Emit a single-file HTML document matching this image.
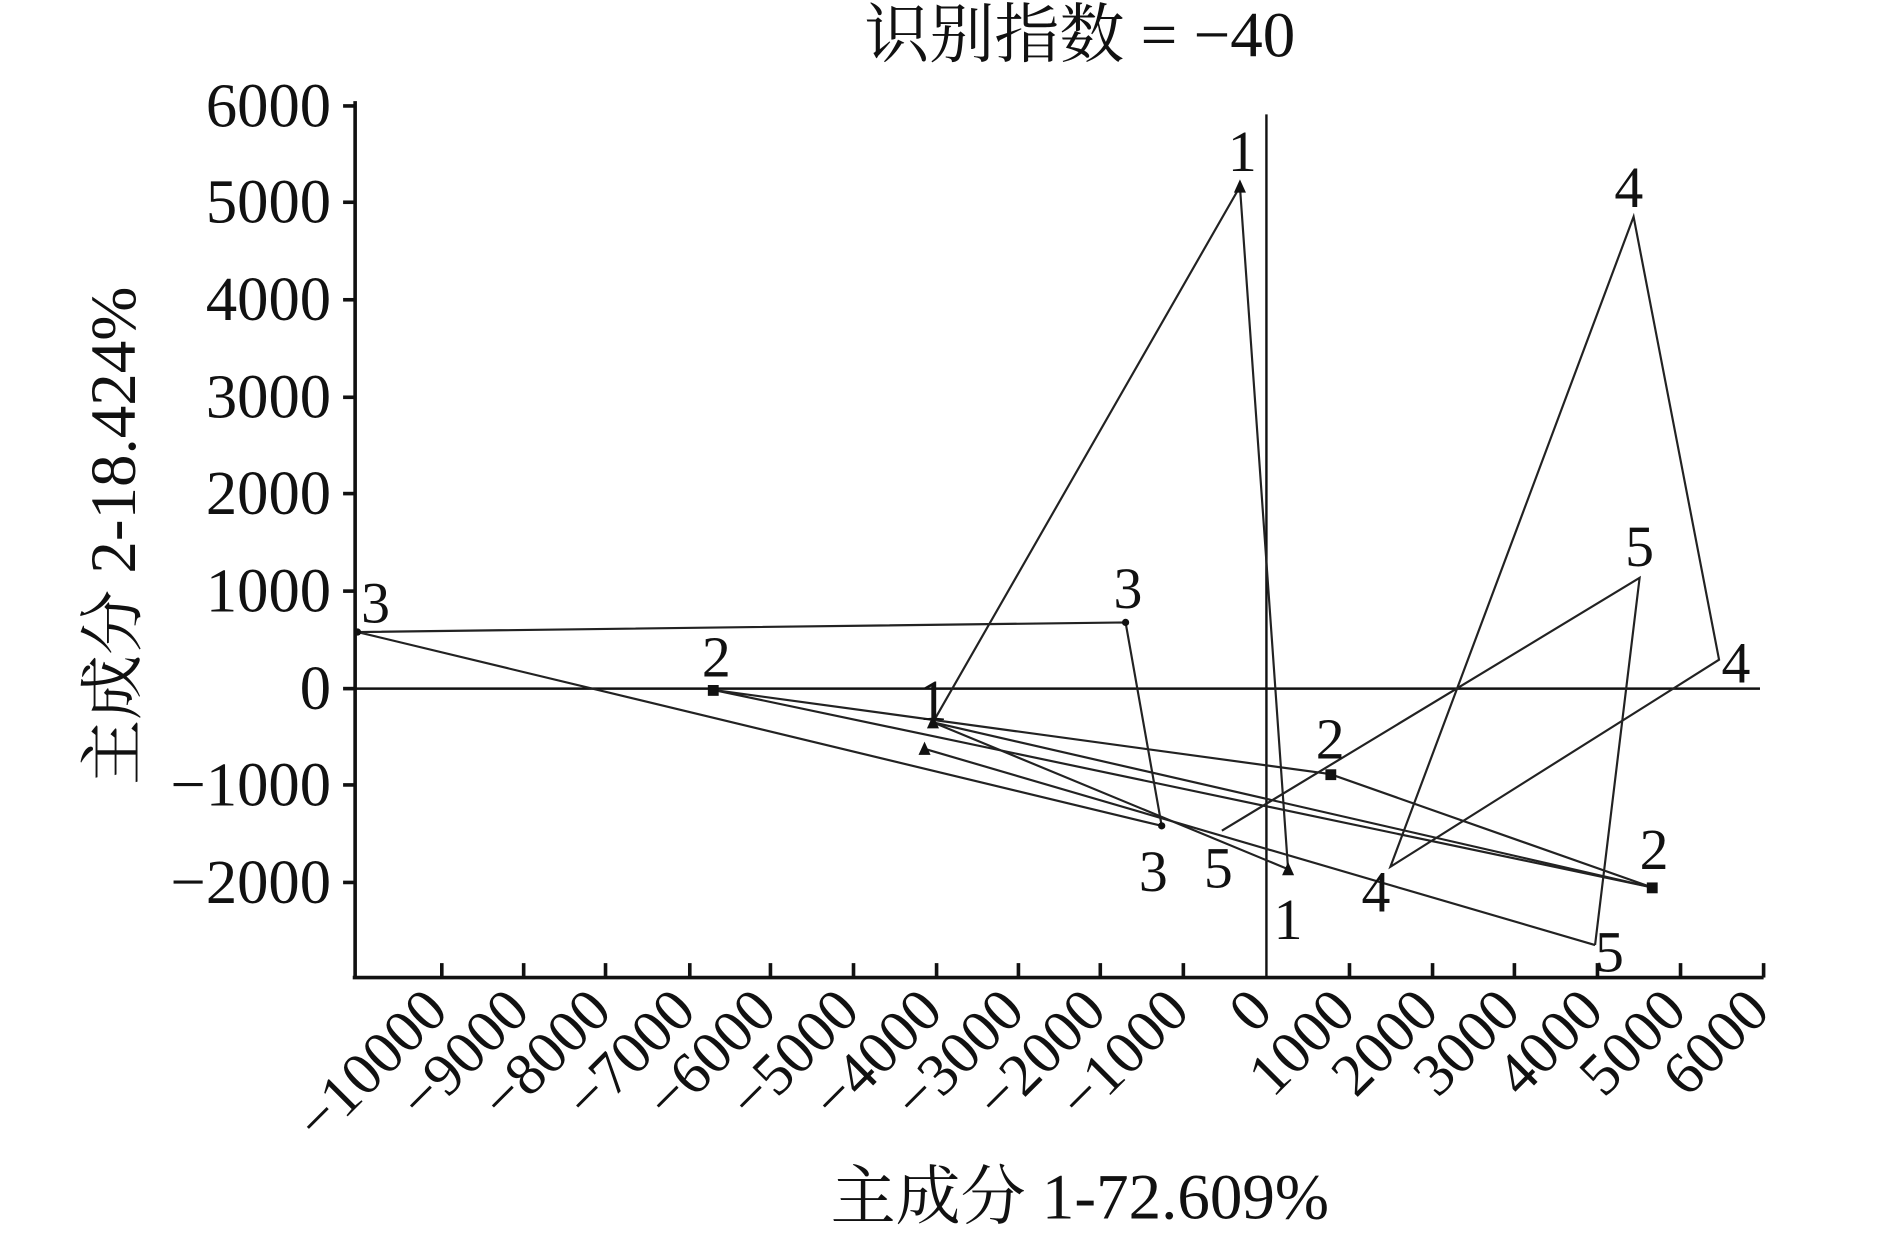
<!DOCTYPE html>
<html><head><meta charset="utf-8"><style>
html,body{margin:0;padding:0;background:#fff;}
svg{display:block}
text{font-family:"Liberation Serif","Noto Serif CJK SC",serif;fill:#111}
</style></head><body>
<svg width="1890" height="1240" viewBox="0 0 1570 1030" preserveAspectRatio="none">
<text x="897" y="47" font-size="54" text-anchor="middle">识别指数 = −40</text>
<g stroke="#111" stroke-width="3" fill="none">
<line x1="295" y1="84" x2="295" y2="813"/>
<line x1="293" y1="812" x2="1465" y2="812"/>
</g>
<g stroke="#111" stroke-width="2">
<line x1="295" y1="572" x2="1462" y2="572"/>
<line x1="1052" y1="95" x2="1052" y2="812"/>
</g>
<g stroke="#111" stroke-width="3">
<line x1="285" y1="88" x2="295" y2="88"/><line x1="285" y1="168" x2="295" y2="168"/>
<line x1="285" y1="249" x2="295" y2="249"/><line x1="285" y1="330" x2="295" y2="330"/>
<line x1="285" y1="410" x2="295" y2="410"/><line x1="285" y1="491" x2="295" y2="491"/>
<line x1="285" y1="572" x2="295" y2="572"/><line x1="285" y1="652" x2="295" y2="652"/>
<line x1="285" y1="733" x2="295" y2="733"/>
<line x1="367" y1="800" x2="367" y2="812"/><line x1="435" y1="800" x2="435" y2="812"/>
<line x1="503" y1="800" x2="503" y2="812"/><line x1="573" y1="800" x2="573" y2="812"/>
<line x1="640" y1="800" x2="640" y2="812"/><line x1="709" y1="800" x2="709" y2="812"/>
<line x1="778" y1="800" x2="778" y2="812"/><line x1="846" y1="800" x2="846" y2="812"/>
<line x1="914" y1="800" x2="914" y2="812"/><line x1="983" y1="800" x2="983" y2="812"/>
<line x1="1121" y1="800" x2="1121" y2="812"/><line x1="1190" y1="800" x2="1190" y2="812"/>
<line x1="1258" y1="800" x2="1258" y2="812"/><line x1="1327" y1="800" x2="1327" y2="812"/>
<line x1="1396" y1="800" x2="1396" y2="812"/><line x1="1465" y1="800" x2="1465" y2="812"/>
</g>
<g font-size="52" text-anchor="end">
<text x="275" y="105">6000</text><text x="275" y="185">5000</text>
<text x="275" y="266">4000</text><text x="275" y="347">3000</text>
<text x="275" y="427">2000</text><text x="275" y="508">1000</text>
<text x="275" y="589">0</text><text x="275" y="669">−1000</text>
<text x="275" y="750">−2000</text>
</g>
<g font-size="50" text-anchor="end">
<text transform="translate(374,842) rotate(-45)">−10000</text>
<text transform="translate(442,842) rotate(-45)">−9000</text>
<text transform="translate(510,842) rotate(-45)">−8000</text>
<text transform="translate(580,842) rotate(-45)">−7000</text>
<text transform="translate(647,842) rotate(-45)">−6000</text>
<text transform="translate(716,842) rotate(-45)">−5000</text>
<text transform="translate(785,842) rotate(-45)">−4000</text>
<text transform="translate(853,842) rotate(-45)">−3000</text>
<text transform="translate(921,842) rotate(-45)">−2000</text>
<text transform="translate(990,842) rotate(-45)">−1000</text>
<text transform="translate(1059,842) rotate(-45)">0</text>
<text transform="translate(1128,842) rotate(-45)">1000</text>
<text transform="translate(1197,842) rotate(-45)">2000</text>
<text transform="translate(1265,842) rotate(-45)">3000</text>
<text transform="translate(1334,842) rotate(-45)">4000</text>
<text transform="translate(1403,842) rotate(-45)">5000</text>
<text transform="translate(1472,842) rotate(-45)">6000</text>
</g>
<text x="897" y="1012" font-size="54" text-anchor="middle">主成分 1-72.609%</text>
<text transform="translate(112,445) rotate(-90)" font-size="54" text-anchor="middle">主成分 2-18.424%</text>
<g stroke="#222" stroke-width="1.8" fill="none">
<polygon points="297,525 935,517 965,686"/>
<polyline points="592,573 1105,643 1372,737 592,573"/>
<polygon points="775,600 1030,155 1070,722"/>
<line x1="768" y1="622" x2="1325" y2="785"/>
<line x1="775" y1="600" x2="1372" y2="737"/>
<polygon points="1155,720 1357,180 1428,548"/>
<polyline points="1015,690 1362,480 1325,785"/>
</g>
<g fill="#111">
<rect x="588" y="569" width="9" height="9"/><rect x="1101" y="639" width="9" height="9"/><rect x="1368" y="733" width="9" height="9"/>
<polygon points="1030,149 1025,160 1035,160"/><polygon points="1070,716 1065,727 1075,727"/>
<polygon points="768,616 763,627 773,627"/><polygon points="775,594 770,605 780,605"/>
<circle cx="297" cy="525" r="3"/><circle cx="935" cy="517" r="3"/><circle cx="965" cy="686" r="3"/>
</g>
<g font-size="48">
<text x="300" y="517">3</text><text x="925" y="505">3</text><text x="946" y="740">3</text>
<text x="583" y="562">2</text><text x="1093" y="630">2</text><text x="1362" y="722">2</text>
<text x="763" y="598">1</text><text x="1020" y="142">1</text><text x="1058" y="780">1</text>
<text x="1341" y="172">4</text><text x="1430" y="567">4</text><text x="1131" y="757">4</text>
<text x="1350" y="470">5</text><text x="1000" y="737">5</text><text x="1325" y="807">5</text>
</g>
</svg>
</body></html>
